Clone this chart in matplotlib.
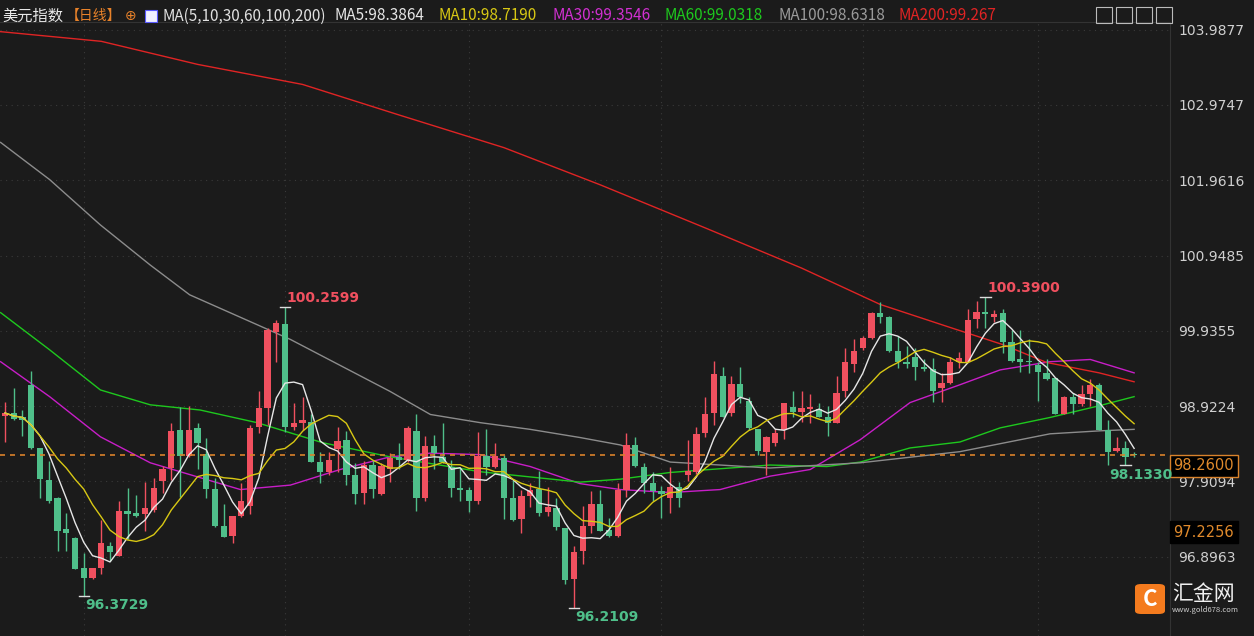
import numpy as np
import pandas as pd
import matplotlib
matplotlib.use("Agg")
import matplotlib.pyplot as plt
from matplotlib.patches import FancyBboxPatch

plt.rcParams['font.family'] = ['Noto Sans CJK SC', 'DejaVu Sans']

# daily OHLC of the US dollar index
opens = [98.79, 98.83, 98.77, 99.20, 98.36, 97.93, 97.68, 97.27, 97.15, 96.75,
         96.61, 96.75, 97.04, 96.91, 97.51, 97.49, 97.47, 97.53, 97.92, 98.09,
         98.60, 98.25, 98.63, 98.28, 97.81, 97.31, 97.18, 97.45, 97.58, 98.64,
         98.90, 99.92, 100.03, 98.64, 98.70, 98.71, 98.17, 98.04, 98.35, 98.47,
         98.00, 97.76, 98.13, 97.74, 98.07, 98.24, 98.20, 98.59, 97.69, 98.39,
         98.24, 98.11, 97.82, 97.80, 97.64, 98.25, 98.11, 98.23, 97.68, 97.41,
         97.72, 97.81, 97.50, 97.55, 97.28, 96.60, 96.98, 97.31, 97.60, 97.26,
         97.18, 97.80, 98.40, 98.11, 97.89, 97.78, 97.69, 97.84, 98.00, 98.04,
         98.56, 98.83, 99.33, 98.83, 99.22, 98.99, 98.62, 98.31, 98.42, 98.60,
         98.91, 98.85, 98.89, 98.89, 98.78, 98.69, 99.12, 99.49, 99.70, 99.84,
         100.18, 100.12, 99.67, 99.52, 99.59, 99.45, 99.42, 99.16, 99.24, 99.51,
         99.52, 100.10, 100.19, 100.12, 100.18, 99.78, 99.55, 99.52, 99.47, 99.37,
         99.30, 98.82, 99.04, 98.95, 99.08, 99.21, 98.60, 98.32, 98.36, 98.27]
highs = [98.98, 99.16, 98.87, 99.40, 98.36, 98.19, 97.70, 97.49, 97.16, 96.95,
         96.75, 97.39, 97.10, 97.65, 97.82, 97.73, 97.90, 97.96, 98.12, 98.69,
         98.91, 98.93, 98.69, 98.50, 97.96, 97.61, 97.45, 97.89, 98.67, 99.13,
         99.98, 100.08, 100.26, 98.97, 99.05, 98.81, 98.31, 98.31, 98.64, 98.59,
         98.16, 98.19, 98.20, 98.16, 98.29, 98.42, 98.66, 98.81, 98.52, 98.54,
         98.70, 98.20, 98.09, 97.84, 98.58, 98.62, 98.43, 98.27, 97.93, 97.80,
         97.89, 98.05, 97.84, 97.69, 97.28, 97.04, 97.58, 97.78, 97.80, 97.42,
         97.89, 98.56, 98.51, 98.16, 98.03, 97.85, 98.11, 97.90, 98.47, 98.64,
         99.04, 99.53, 99.45, 99.33, 99.45, 99.05, 98.62, 98.52, 98.62, 98.97,
         99.12, 99.12, 99.08, 98.97, 98.93, 99.33, 99.71, 99.82, 99.86, 100.19,
         100.32, 100.14, 99.86, 99.73, 99.71, 99.56, 99.57, 99.37, 99.59, 99.65,
         100.23, 100.34, 100.39, 100.22, 100.23, 99.95, 99.95, 99.82, 99.52, 99.55,
         99.30, 99.06, 99.10, 99.21, 99.29, 99.24, 98.74, 98.51, 98.46, 98.31]
lows = [98.44, 98.73, 98.52, 98.34, 97.69, 97.62, 96.98, 96.98, 96.73, 96.37,
        96.60, 96.67, 96.84, 96.91, 97.14, 97.43, 97.24, 97.50, 97.76, 97.93,
        97.70, 98.24, 98.07, 97.69, 97.29, 97.16, 97.08, 97.43, 97.47, 98.56,
        98.67, 99.51, 98.58, 98.60, 98.60, 98.17, 97.89, 98.00, 98.03, 97.86,
        97.61, 97.61, 97.69, 97.73, 97.90, 98.07, 98.17, 97.51, 97.64, 98.07,
        98.16, 97.70, 97.65, 97.50, 97.60, 98.00, 98.09, 97.41, 97.38, 97.22,
        97.57, 97.45, 97.45, 97.26, 96.53, 96.21, 96.80, 97.22, 97.24, 97.16,
        97.16, 97.70, 98.11, 97.76, 97.65, 97.42, 97.49, 97.57, 97.92, 98.01,
        98.51, 98.67, 98.78, 98.79, 98.97, 98.60, 98.27, 98.00, 98.38, 98.48,
        98.77, 98.71, 98.70, 98.78, 98.52, 98.69, 99.05, 99.38, 99.68, 99.83,
        100.04, 99.65, 99.44, 99.44, 99.28, 99.40, 98.98, 98.98, 99.22, 99.44,
        99.51, 99.98, 99.98, 100.05, 99.64, 99.52, 99.38, 99.37, 98.99, 99.28,
        98.81, 98.81, 98.81, 98.93, 98.93, 98.60, 98.13, 98.31, 98.13, 98.24]
closes = [98.83, 98.75, 98.73, 98.36, 97.94, 97.65, 97.24, 97.22, 96.73, 96.61,
          96.75, 97.08, 96.96, 97.51, 97.47, 97.45, 97.55, 97.82, 98.07, 98.59,
          98.25, 98.60, 98.43, 97.81, 97.31, 97.16, 97.45, 97.64, 98.63, 98.90,
          99.95, 100.04, 98.64, 98.70, 98.73, 98.17, 98.03, 98.20, 98.46, 98.00,
          97.74, 98.13, 97.81, 98.12, 98.23, 98.20, 98.63, 97.69, 98.39, 98.29,
          98.17, 97.82, 97.80, 97.64, 98.25, 98.11, 98.25, 97.69, 97.39, 97.72,
          97.80, 97.49, 97.57, 97.30, 96.59, 96.96, 97.31, 97.60, 97.24, 97.18,
          97.80, 98.40, 98.12, 97.89, 97.78, 97.74, 97.84, 97.68, 98.05, 98.55,
          98.81, 99.36, 98.78, 99.22, 99.04, 98.63, 98.32, 98.51, 98.56, 98.97,
          98.85, 98.90, 98.91, 98.78, 98.70, 99.10, 99.51, 99.67, 99.84, 100.18,
          100.12, 99.67, 99.51, 99.49, 99.45, 99.42, 99.13, 99.24, 99.51, 99.57,
          100.08, 100.19, 100.16, 100.16, 99.78, 99.53, 99.52, 99.51, 99.38, 99.29,
          98.82, 99.04, 98.95, 99.08, 99.20, 98.60, 98.31, 98.36, 98.24, 98.26]

# long moving averages (candle index, value)
ma30_idx = [-0.5, 5.1, 10.9, 16.6, 22.3, 26.9, 32.6, 38.3, 44, 48.6, 54.3, 60, 65.7,
            70.3, 76, 81.7, 87.4, 92, 97.7, 103.4, 109.1, 113.7, 119.4, 124, 129]
ma30_val = [99.52, 99.05, 98.51, 98.16, 97.96, 97.80, 97.86, 98.07, 98.24, 98.29, 98.27,
            98.11, 97.88, 97.80, 97.76, 97.80, 97.98, 98.07, 98.47, 98.97, 99.21, 99.41,
            99.52, 99.55, 99.37]
ma60_idx = [-0.5, 5.1, 10.9, 16.6, 22.3, 28.8, 36.3, 44, 54.3, 65.7, 70.3, 76, 87.4,
            93.9, 97.7, 103.4, 109.1, 113.7, 119.4, 125.1, 129]
ma60_val = [100.18, 99.68, 99.14, 98.94, 98.87, 98.70, 98.43, 98.24, 98.04, 97.90, 97.94,
            98.03, 98.13, 98.11, 98.17, 98.36, 98.44, 98.63, 98.77, 98.93, 99.05]
ma100_idx = [-0.5, 5.1, 10.9, 16.6, 21.1, 32.6, 44, 48.6, 54.3, 60, 65.7, 70.3, 76,
             81.7, 87.4, 97.7, 109.1, 119.4, 125.1, 129]
ma100_val = [102.47, 101.97, 101.36, 100.82, 100.42, 99.82, 99.12, 98.81, 98.70, 98.61,
             98.50, 98.40, 98.17, 98.13, 98.09, 98.16, 98.31, 98.55, 98.59, 98.61]
ma200_idx = [-0.5, 11, 22, 34, 45, 57, 68, 80, 91, 100, 108, 114, 119, 125, 129]
ma200_val = [103.96, 103.83, 103.52, 103.25, 102.84, 102.40, 101.90, 101.32, 100.78,
             100.29, 99.98, 99.75, 99.51, 99.37, 99.25]

yticks = [103.9877, 102.9747, 101.9616, 100.9485, 99.9355, 98.9224, 97.9094, 96.8963]
month_lines = [9, 32, 53, 75, 98, 118]
last_price = 98.26
cursor_price = 97.2256

BG = '#1b1b1b'
UP = '#f0505f'
DOWN = '#4fbf8a'

fig = plt.figure(figsize=(12.54, 6.36), dpi=100, facecolor=BG)
ax = fig.add_axes([0, 0, 1170 / 1254, 614 / 636], facecolor=BG)

o = np.array(opens); h = np.array(highs); l = np.array(lows); c = np.array(closes)
x = np.arange(len(o))
up = c >= o
col = np.where(up, UP, DOWN)
ax.vlines(x, l, h, colors=col, lw=1, zorder=3)
body = np.maximum(np.abs(c - o), 0.02)
ax.bar(x, body, bottom=np.minimum(o, c), width=0.72, color=col, zorder=4)

s = pd.Series(c)
ax.plot(x, s.rolling(5, min_periods=1).mean(), color='#e6e6e6', lw=1, zorder=5)
ax.plot(x, s.rolling(10, min_periods=1).mean(), color='#d8c814', lw=1, zorder=5)
ax.plot(ma30_idx, ma30_val, color='#c81ec8', lw=1, zorder=2)
ax.plot(ma60_idx, ma60_val, color='#1ec81e', lw=1, zorder=2)
ax.plot(ma100_idx, ma100_val, color='#8c8c8c', lw=1, zorder=2)
ax.plot(ma200_idx, ma200_val, color='#e02424', lw=1, zorder=2)

ax.axhline(last_price, color='#d9822b', ls=(0, (3, 3)), lw=1.2, zorder=6)
for t in yticks:
    ax.axhline(t, color='#3a3a3a', ls=(0, (1, 4)), lw=0.8, zorder=0)
for m in month_lines:
    ax.axvline(m, color='#3a3a3a', ls=(0, (1, 4)), lw=0.8, zorder=0)

# extreme labels
def mark(i, price, text, color, dy, dx=0.2, ha='left'):
    ax.plot([i - 0.6, i + 0.6], [price, price], color='#dddddd', lw=1, zorder=6)
    ax.text(i + dx, price + dy, text, color=color, fontsize=10, fontweight='bold',
            va='center', ha=ha, family=['DejaVu Sans'], clip_on=False, zorder=12)

mark(32, highs[32], '100.2599', UP, 0.12)
mark(112, highs[112], '100.3900', UP, 0.12)
mark(9, lows[9], '96.3729', DOWN, -0.12)
mark(65, lows[65], '96.2109', DOWN, -0.12)
mark(128, lows[128], '98.1330', DOWN, -0.14, dx=1.8, ha='center')

ax.set_xlim(-0.57, 133.1)
ax.set_ylim(95.83, 104.09)
ax.set_xticks([])
ax.yaxis.tick_right()
ax.set_yticks(yticks)
ax.set_yticklabels([f'{t:.4f}' for t in yticks], color='#d0d0d0', fontsize=10,
                   family=['DejaVu Sans'])
ax.tick_params(axis='y', length=0, pad=6)
for sp in ax.spines.values():
    sp.set_visible(False)
ax.spines['right'].set_visible(True)
ax.spines['right'].set_color('#333333')
ax.spines['top'].set_visible(True)
ax.spines['top'].set_color('#333333')

# price boxes on the axis
ax.text(1.003, last_price - 0.14, f'{last_price:.4f}', transform=ax.get_yaxis_transform(),
        color='#e08a2c', fontsize=10.5, va='center', ha='left', family=['DejaVu Sans'],
        bbox=dict(boxstyle='square,pad=0.25', fc='black', ec='#d9822b', lw=1), zorder=10)
ax.text(1.003, cursor_price, f'{cursor_price:.4f}', transform=ax.get_yaxis_transform(),
        color='#e08a2c', fontsize=10.5, va='center', ha='left', family=['DejaVu Sans'],
        bbox=dict(boxstyle='square,pad=0.25', fc='black', ec='black', lw=1), zorder=10)

# header
W, H = 1254, 636
def htext(px, s, color, size=11, **kw):
    fig.text(px / W, 1 - 16 / H, s, color=color, fontsize=size, va='center', ha='left', **kw)

htext(2, '美元指数', '#e8e8e8')
htext(66, '【日线】', '#e8822a', size=10)
htext(125, '⊕', '#e8822a', size=10, family=['DejaVu Sans'])
htext(162, 'MA(5,10,30,60,100,200)', '#e0e0e0')
htext(335, 'MA5:98.3864', '#e6e6e6')
htext(438, 'MA10:98.7190', '#d8c814')
htext(553, 'MA30:99.3546', '#d030d0')
htext(665, 'MA60:99.0318', '#1ec81e')
htext(778, 'MA100:98.6318', '#9a9a9a')
htext(898, 'MA200:99.267', '#e02424')
fig.patches.append(FancyBboxPatch((145 / W, 1 - 22 / H), 12 / W, 12 / H, boxstyle='square,pad=0',
                                  fc='#f0f0ff', ec='#5a5aff', lw=0.8, transform=fig.transFigure))
for k in range(4):
    fig.patches.append(FancyBboxPatch(((1096 + k * 20) / W, 1 - 23 / H), 16 / W, 16 / H,
                                      boxstyle='square,pad=0', fc='none', ec='#bbbbbb', lw=0.8,
                                      transform=fig.transFigure))

# logo
fig.patches.append(FancyBboxPatch((1135 / W, 22 / H), 30 / W, 30 / H,
                                  boxstyle='round,pad=0,rounding_size=0.005', fc='#f47b1e',
                                  ec='none', transform=fig.transFigure))
fig.text(1150 / W, 37 / H, 'C', color='white', fontsize=16, fontweight='bold',
         ha='center', va='center')
fig.text(1172 / W, 42 / H, '汇金网', color='#f0f0f0', fontsize=15, ha='left', va='center')
fig.text(1172 / W, 26 / H, 'www.gold678.com', color='#cccccc', fontsize=5.5, ha='left',
         va='center')

fig.savefig('out.png', dpi=100, facecolor=BG)
